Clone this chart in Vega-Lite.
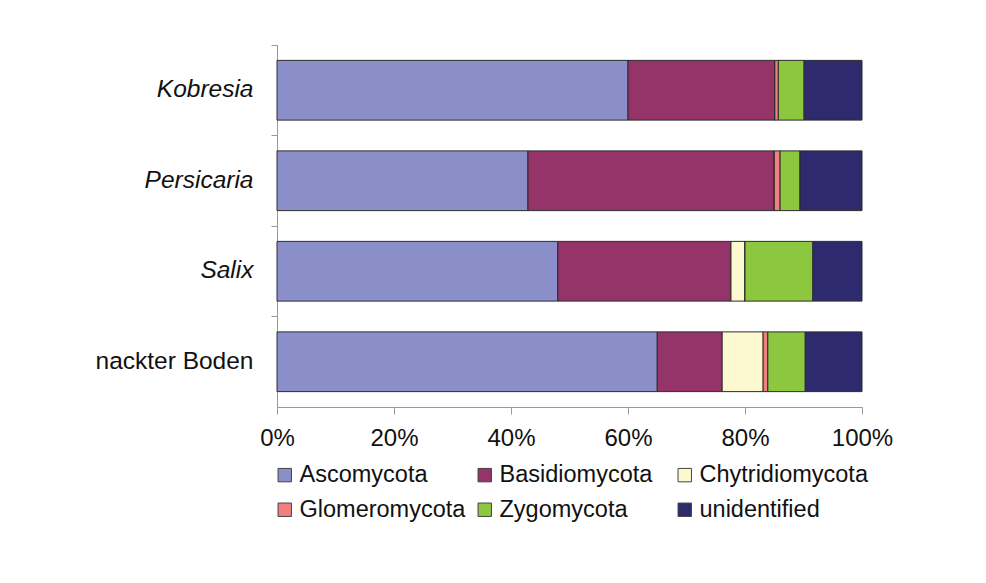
{
  "$schema": "https://vega.github.io/schema/vega-lite/v6.json",
  "autosize": {"type": "none"},
  "width": 585,
  "height": 362,
  "padding": {"left": 277, "top": 45, "right": 124, "bottom": 176},
  "background": "white",
  "data": {
    "values": [
      {"site": "Kobresia", "group": "Ascomycota", "idx": 1, "value": 60.0},
      {"site": "Kobresia", "group": "Basidiomycota", "idx": 2, "value": 25.1},
      {"site": "Kobresia", "group": "Chytridiomycota", "idx": 3, "value": 0},
      {"site": "Kobresia", "group": "Glomeromycota", "idx": 4, "value": 0.6},
      {"site": "Kobresia", "group": "Zygomycota", "idx": 5, "value": 4.4},
      {"site": "Kobresia", "group": "unidentified", "idx": 6, "value": 9.9},
      {"site": "Persicaria", "group": "Ascomycota", "idx": 1, "value": 42.9},
      {"site": "Persicaria", "group": "Basidiomycota", "idx": 2, "value": 42.1},
      {"site": "Persicaria", "group": "Chytridiomycota", "idx": 3, "value": 0},
      {"site": "Persicaria", "group": "Glomeromycota", "idx": 4, "value": 1.0},
      {"site": "Persicaria", "group": "Zygomycota", "idx": 5, "value": 3.4},
      {"site": "Persicaria", "group": "unidentified", "idx": 6, "value": 10.6},
      {"site": "Salix", "group": "Ascomycota", "idx": 1, "value": 48.0},
      {"site": "Salix", "group": "Basidiomycota", "idx": 2, "value": 29.6},
      {"site": "Salix", "group": "Chytridiomycota", "idx": 3, "value": 2.4},
      {"site": "Salix", "group": "Glomeromycota", "idx": 4, "value": 0},
      {"site": "Salix", "group": "Zygomycota", "idx": 5, "value": 11.6},
      {"site": "Salix", "group": "unidentified", "idx": 6, "value": 8.4},
      {"site": "nackter Boden", "group": "Ascomycota", "idx": 1, "value": 65.0},
      {"site": "nackter Boden", "group": "Basidiomycota", "idx": 2, "value": 11.1},
      {"site": "nackter Boden", "group": "Chytridiomycota", "idx": 3, "value": 7.0},
      {"site": "nackter Boden", "group": "Glomeromycota", "idx": 4, "value": 0.8},
      {"site": "nackter Boden", "group": "Zygomycota", "idx": 5, "value": 6.4},
      {"site": "nackter Boden", "group": "unidentified", "idx": 6, "value": 9.7}
    ]
  },
  "mark": {"type": "bar", "stroke": "#2b2b2b", "strokeWidth": 1},
  "encoding": {
    "y": {
      "field": "site",
      "type": "nominal",
      "sort": ["Kobresia", "Persicaria", "Salix", "nackter Boden"],
      "scale": {"paddingInner": 0.34, "paddingOuter": 0.17},
      "axis": {
        "title": null,
        "labelFont": "Liberation Sans",
        "labelFontSize": 24.5,
        "labelColor": "#111",
        "labelFontStyle": {"condition": {"test": "datum.value === 'nackter Boden'", "value": "normal"}, "value": "italic"},
        "labelPadding": 18,
        "tickSize": 6,
        "tickColor": "#999",
        "domainColor": "#999",
        "bandPosition": -0.2575
      }
    },
    "x": {
      "field": "value",
      "type": "quantitative",
      "stack": "normalize",
      "scale": {"domain": [0, 1], "nice": false},
      "axis": {
        "title": null,
        "format": ".0%",
        "values": [0, 0.2, 0.4, 0.6, 0.8, 1],
        "grid": false,
        "labelFont": "Liberation Sans",
        "labelFontSize": 24,
        "labelColor": "#111",
        "labelPadding": 12,
        "tickSize": 7,
        "tickColor": "#999",
        "domainColor": "#999",
        "labelFlush": false
      }
    },
    "order": {"field": "idx", "type": "quantitative"},
    "color": {
      "field": "group",
      "type": "nominal",
      "scale": {
        "domain": ["Ascomycota", "Basidiomycota", "Chytridiomycota", "Glomeromycota", "Zygomycota", "unidentified"],
        "range": ["#8b8fc9", "#943468", "#fcf8cf", "#f08080", "#8dc63f", "#2e2a6e"]
      },
      "legend": {
        "title": null,
        "orient": "none",
        "legendX": -4,
        "legendY": 418,
        "direction": "horizontal",
        "columns": 3,
        "gridAlign": "all",
        "symbolType": "square",
        "symbolSize": 180,
        "symbolStrokeColor": "#444",
        "symbolStrokeWidth": 1,
        "labelFont": "Liberation Sans",
        "labelFontSize": 23.5,
        "labelColor": "#111",
        "labelOffset": 3,
        "labelLimit": 300,
        "columnPadding": 5,
        "rowPadding": 10
      }
    }
  },
  "config": {"view": {"stroke": null}}
}
